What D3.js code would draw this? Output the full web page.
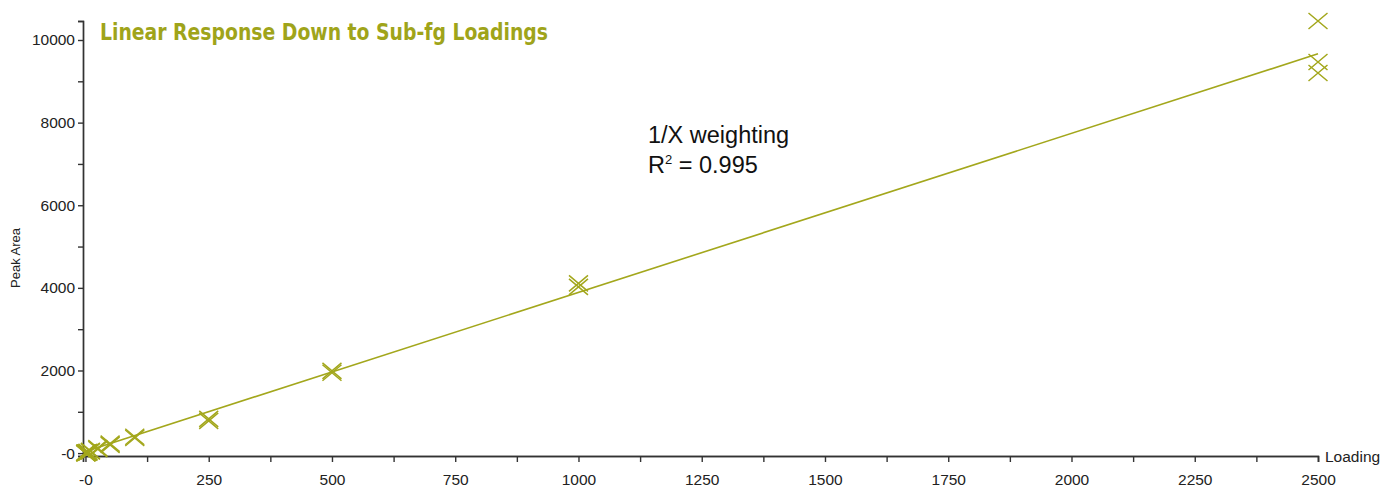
<!DOCTYPE html>
<html>
<head>
<meta charset="utf-8">
<script src="https://cdn.jsdelivr.net/npm/d3@7"></script>
<style>
  body { margin: 0; background: #fff; }
  svg { display: block; }
</style>
</head>
<body>
<div id="chart"></div>
<script>
// replicate injections: loading (fg) and measured peak area
var loadings = [0.5, 0.5, 1, 1, 2.5, 2.5, 5, 5, 10, 10, 25, 25, 50, 50,
                100, 100, 250, 250, 500, 500, 1000, 1000, 2500, 2500, 2500];
var peakAreas = [5, 0, 10, -5, 15, 5, 30, 10, 55, 40, 120, 95, 230, 200,
                 395, 365, 830, 780, 1990, 1945, 4110, 4025, 10460, 9467, 9201];

// 1/X weighted fit
var fitSlope = 3.85;
var fitIntercept = 40;
var fitRange = [0, 2500];

var xMajor = [0, 250, 500, 750, 1000, 1250, 1500, 1750, 2000, 2250, 2500];
var xMinor = [125, 375, 625, 875, 1125, 1375, 1625, 1875, 2125, 2375];
var yMajor = [0, 2000, 4000, 6000, 8000, 10000];
var yMinor = [1000, 3000, 5000, 7000, 9000];

var width = 1384, height = 487;
var olive = "#a3a71c";
var axisCol = "#333";

var svg = d3.select("#chart").append("svg")
    .attr("width", width)
    .attr("height", height);

var x = d3.scaleLinear().domain([-5, 2500]).range([83, 1318]);
var y = d3.scaleLinear().domain([-70, 10460]).range([456, 21]);

// minor ticks first (no labels)
var xMinorAxis = d3.axisBottom(x).tickValues(xMinor).tickSize(6).tickFormat("");
var yMinorAxis = d3.axisLeft(y).tickValues(yMinor).tickSize(5).tickFormat("");

var fmt = function(d) { return d === 0 ? "-0" : String(d); };

var xAxis = d3.axisBottom(x).tickValues(xMajor).tickSize(6).tickPadding(12).tickFormat(fmt);
var yAxis = d3.axisLeft(y).tickValues(yMajor).tickSize(5).tickPadding(3).tickFormat(fmt);

function styleAxis(g) {
    g.selectAll("path.domain").attr("stroke", axisCol).attr("stroke-width", 1.4);
    g.selectAll(".tick line").attr("stroke", axisCol).attr("stroke-width", 1.4);
    g.selectAll("text")
        .attr("fill", "#222")
        .style("font-family", "'Liberation Sans', Arial, sans-serif")
        .style("font-size", "15.5px");
}

svg.append("g").attr("transform", "translate(0," + y(-70) + ")").call(xMinorAxis).call(styleAxis);
svg.append("g").attr("transform", "translate(0," + y(-70) + ")").call(xAxis).call(styleAxis);
svg.append("g").attr("transform", "translate(" + x(-5) + ",0)").call(yMinorAxis).call(styleAxis);
svg.append("g").attr("transform", "translate(" + x(-5) + ",0)").call(yAxis).call(styleAxis);

// axis titles
svg.append("text")
    .attr("x", 1325).attr("y", 462)
    .attr("fill", "#222")
    .style("font-family", "'Liberation Sans', Arial, sans-serif")
    .style("font-size", "15.5px")
    .text("Loading");

svg.append("text")
    .attr("transform", "translate(20,258) rotate(-90)")
    .attr("text-anchor", "middle")
    .attr("fill", "#222")
    .style("font-family", "'Liberation Sans', Arial, sans-serif")
    .style("font-size", "13px")
    .text("Peak Area");

// fit line
var line = d3.line()
    .x(function(d) { return x(d); })
    .y(function(d) { return y(fitSlope * d + fitIntercept); });

svg.append("path")
    .datum(fitRange)
    .attr("d", line)
    .attr("fill", "none")
    .attr("stroke", olive)
    .attr("stroke-width", 1.6);

// X markers
var pts = loadings.map(function(l, i) { return {x: l, y: peakAreas[i]}; });
var hw = 9.5, hh = 8;

svg.append("g")
    .selectAll("path")
    .data(pts)
    .enter()
    .append("path")
    .attr("transform", function(d) { return "translate(" + x(d.x) + "," + y(d.y) + ")"; })
    .attr("d", "M" + (-hw) + "," + (-hh) + "L" + hw + "," + hh +
               "M" + (-hw) + "," + hh + "L" + hw + "," + (-hh))
    .attr("fill", "none")
    .attr("stroke", olive)
    .attr("stroke-width", 1.5);

// title
svg.append("text")
    .attr("x", 100).attr("y", 40)
    .attr("fill", "#9fa41a")
    .attr("textLength", 448)
    .attr("lengthAdjust", "spacingAndGlyphs")
    .style("font-family", "'Liberation Sans Narrow', 'DejaVu Sans Condensed', sans-serif")
    .style("font-weight", "bold")
    .style("font-size", "23px")
    .text("Linear Response Down to Sub-fg Loadings");

// annotation
var note = svg.append("g")
    .style("font-family", "'Liberation Sans', Arial, sans-serif")
    .style("font-size", "23.5px")
    .attr("fill", "#111");

note.append("text").attr("x", 648).attr("y", 143).text("1/X weighting");
var r2 = note.append("text").attr("x", 648).attr("y", 173);
r2.append("tspan").text("R");
r2.append("tspan").attr("dy", -9).style("font-size", "13px").text("2");
r2.append("tspan").attr("dy", 9).text(" = 0.995");
</script>
</body>
</html>
